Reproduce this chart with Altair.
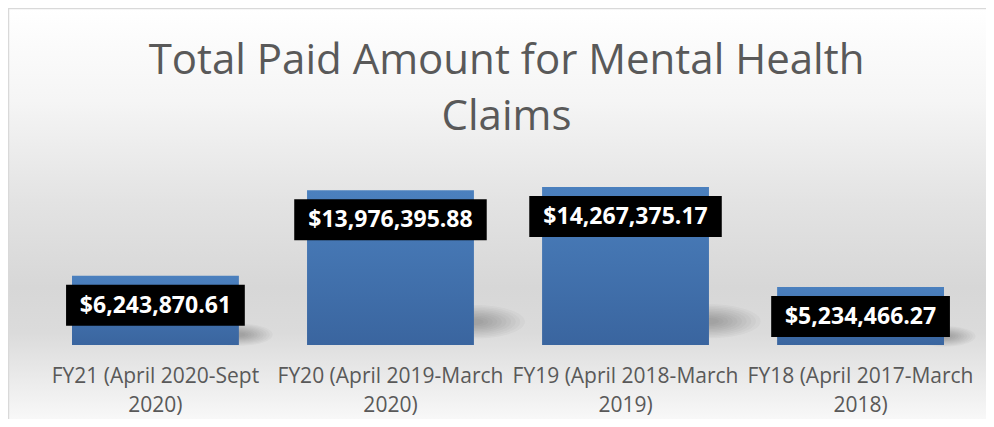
import altair as alt
import pandas as pd

# ---- data ----
categories = [
    "FY21 (April 2020-Sept 2020)",
    "FY20 (April 2019-March 2020)",
    "FY19 (April 2018-March 2019)",
    "FY18 (April 2017-March 2018)",
]
amounts = [6243870.61, 13976395.88, 14267375.17, 5234466.27]
title_lines = ["Total Paid Amount for Mental Health", "Claims"]

# ---- layout ----
W, H = 978, 411
BASE = 337   # pixel row of the bar baseline
TOP = 179    # pixel row of the tallest bar top
GREY = "#595959"
MAXV = max(amounts)

df = pd.DataFrame({"period": categories, "amount": amounts})

x_scale = alt.Scale(range=[64, 936], paddingInner=0.29, paddingOuter=0)
x_axis = alt.Axis(
    title=None, domain=False, ticks=False, grid=False, labelAngle=0,
    labelFont="Open Sans", labelFontSize=21, labelColor=GREY,
    labelLineHeight=29, labelPadding=20, labelOverlap=False, labelLimit=0,
    labelBaseline="top", offset=-(H - BASE), zindex=1,
    labelExpr="[slice(datum.label, 0, lastindexof(datum.label, ' ')), "
              "slice(datum.label, lastindexof(datum.label, ' ') + 1)]",
)
x_enc = alt.X("period:N", sort=None, scale=x_scale, axis=x_axis)
y_scale = alt.Scale(domain=[0, MAXV], range=[BASE, TOP], nice=False, zero=True)

base = alt.Chart(df).transform_calculate(
    label="'$' + format(datum.amount, ',.2f')",
    boxw="length('$' + format(datum.amount, ',.2f')) * 13.75",
)

bg = alt.Chart(alt.Data(values=[{}])).mark_rect(
    fill=alt.LinearGradient(
        gradient="linear", x1=0, y1=0, x2=0, y2=1,
        stops=[
            alt.GradientStop(offset=0.0, color="#ffffff"),
            alt.GradientStop(offset=0.225, color="#f5f5f5"),
            alt.GradientStop(offset=0.47, color="#e3e3e3"),
            alt.GradientStop(offset=0.68, color="#d7d7d7"),
            alt.GradientStop(offset=0.79, color="#dbdbdb"),
            alt.GradientStop(offset=0.92, color="#ededed"),
            alt.GradientStop(offset=1.0, color="#f8f8f8"),
        ],
    )
).encode(x=alt.value(0), x2=alt.value(W), y=alt.value(0), y2=alt.value(H))

border = alt.Chart(alt.Data(values=[{}])).mark_rule(color="#d9d9d9", strokeWidth=1.5)
left_rule = border.encode(x=alt.value(0.5), y=alt.value(0), y2=alt.value(H))
top_rule = border.encode(y=alt.value(0.5), x=alt.value(0), x2=alt.value(W))

# soft shadow: stacked translucent ellipses at the bar's lower right corner
ELLIPSE = "M -1 0 A 1 0.33 0 1 0 1 0 A 1 0.33 0 1 0 -1 0 Z"
shadow = base.transform_calculate(
    k="[1, 0.91, 0.82, 0.73, 0.64, 0.55, 0.46, 0.37, 0.28, 0.19]",
).transform_flatten(["k"]).transform_calculate(
    sy="datum.amount * 0.15",
    ssize=f"pow(2 * datum.k * (20 + 0.2 * 158 * datum.amount / {MAXV}), 2)",
).mark_point(
    shape=ELLIPSE, filled=True, color="black", opacity=0.026, xOffset=83.5,
    strokeWidth=0,
).encode(
    x=x_enc,
    y=alt.Y("sy:Q", scale=y_scale, axis=None),
    size=alt.Size("ssize:Q", scale=None, legend=None),
)

bars = base.mark_bar(
    fill=alt.LinearGradient(
        gradient="linear", x1=0, y1=0, x2=0, y2=1,
        stops=[
            alt.GradientStop(offset=0.0, color="#4b80be"),
            alt.GradientStop(offset=1.0, color="#3a659f"),
        ],
    )
).encode(
    x=x_enc,
    y=alt.Y("amount:Q", scale=y_scale, axis=None),
    y2=alt.datum(0),
)

boxes = base.mark_bar(color="black", yOffset=9, y2Offset=50).encode(
    x=x_enc,
    y=alt.Y("amount:Q", scale=y_scale, axis=None),
    y2="amount:Q",
    size=alt.Size("boxw:Q", scale=None, legend=None),
)

labels = base.mark_text(
    font="Open Sans", fontWeight="bold", fontSize=23, color="white",
    baseline="middle", align="center", dy=30,
).encode(
    x=x_enc,
    y=alt.Y("amount:Q", scale=y_scale, axis=None),
    text="label:N",
)

title = alt.Chart(alt.Data(values=[{"t": "\n".join(title_lines)}])).mark_text(
    font="Open Sans", fontSize=42, color=GREY, align="center",
    baseline="alphabetic", lineBreak="\n", lineHeight=56,
).encode(x=alt.value(498.5), y=alt.value(66), text="t:N")

chart = alt.layer(
    bg, left_rule, top_rule, shadow, bars, boxes, labels, title
).properties(
    width=W, height=H, padding=0,
    autosize=alt.AutoSizeParams(type="none"),
).configure_view(stroke=None).configure(background="white")

chart.save("out.html", embed_options={"renderer": "svg", "actions": False})
